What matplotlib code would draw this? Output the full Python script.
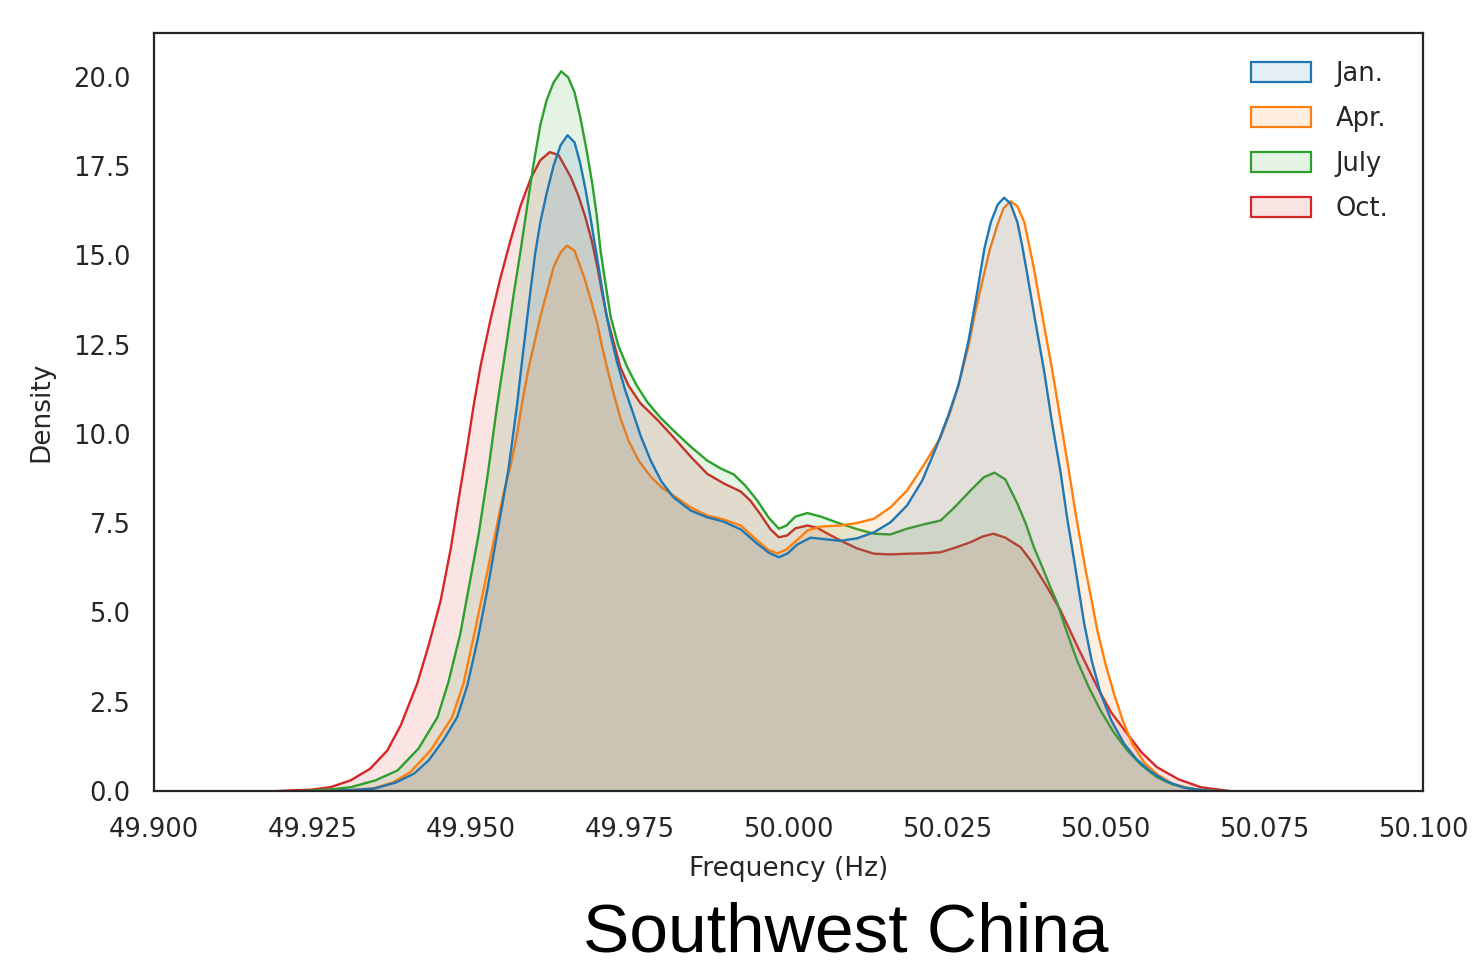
import matplotlib
matplotlib.use("Agg")
import matplotlib.pyplot as plt
from matplotlib.patches import Patch
from matplotlib.colors import to_rgba
import seaborn as sns

sns.set_style("white")
plt.rcParams['font.family'] = ['DejaVu Sans']

# ---- data (frequency in Hz, KDE density) ----
labels = ["Jan.", "Apr.", "July", "Oct."]
colors = ["#1f77b4", "#ff7f0e", "#2ca02c", "#d62728"]

jan_f = [49.9262, 49.9309, 49.9346, 49.9380, 49.9409, 49.9432, 49.9455, 49.9477, 49.9493,
         49.9509, 49.9525, 49.9540, 49.9550, 49.9558, 49.9565, 49.9572, 49.9577, 49.9585,
         49.9593, 49.9600, 49.9608, 49.9618, 49.9629, 49.9640, 49.9651, 49.9662, 49.9671,
         49.9679, 49.9687, 49.9693, 49.9700, 49.9711, 49.9719, 49.9729, 49.9742, 49.9755,
         49.9766, 49.9782, 49.9799, 49.9818, 49.9845, 49.9871, 49.9897, 49.9924, 49.9950,
         49.9968, 49.9984, 49.9998, 50.0013, 50.0034, 50.0060, 50.0081, 50.0107, 50.0134,
         50.0160, 50.0186, 50.0210, 50.0232, 50.0251, 50.0267, 50.0283, 50.0297, 50.0308,
         50.0318, 50.0329, 50.0339, 50.0349, 50.0360, 50.0368, 50.0375, 50.0388, 50.0402,
         50.0414, 50.0428, 50.0439, 50.0450, 50.0465, 50.0477, 50.0491, 50.0508, 50.0528,
         50.0548, 50.0570, 50.0595, 50.0622, 50.0656, 50.0696]
jan_d = [0.01, 0.04, 0.08, 0.25, 0.50, 0.87, 1.43, 2.08, 2.97,
         4.23, 5.69, 7.22, 8.21, 9.05, 9.97, 10.92, 11.71, 12.91,
         14.09, 15.07, 15.94, 16.75, 17.53, 18.10, 18.38, 18.18, 17.59,
         16.89, 16.09, 15.43, 14.69, 13.47, 12.77, 12.02, 11.23, 10.56,
         9.97, 9.27, 8.68, 8.24, 7.87, 7.68, 7.56, 7.34, 6.94,
         6.69, 6.56, 6.67, 6.92, 7.11, 7.06, 7.02, 7.09, 7.26,
         7.54, 8.01, 8.71, 9.64, 10.53, 11.37, 12.63, 14.03, 15.21,
         15.94, 16.44, 16.63, 16.47, 15.94, 15.24, 14.54, 13.19, 11.79,
         10.39, 8.94, 7.59, 6.41, 4.73, 3.67, 2.75, 1.99, 1.34,
         0.90, 0.56, 0.28, 0.11, 0.03, 0.0]

apr_f = [49.9262, 49.9309, 49.9345, 49.9375, 49.9403, 49.9435, 49.9469, 49.9487, 49.9503,
         49.9520, 49.9537, 49.9550, 49.9561, 49.9571, 49.9580, 49.9590, 49.9608, 49.9629,
         49.9640, 49.9650, 49.9662, 49.9677, 49.9687, 49.9698, 49.9705, 49.9713, 49.9723,
         49.9734, 49.9747, 49.9763, 49.9782, 49.9799, 49.9818, 49.9845, 49.9871, 49.9897,
         49.9924, 49.9950, 49.9968, 49.9982, 49.9996, 50.0012, 50.0029, 50.0050, 50.0081,
         50.0107, 50.0134, 50.0160, 50.0186, 50.0212, 50.0239, 50.0255, 50.0270, 50.0283,
         50.0294, 50.0305, 50.0316, 50.0328, 50.0338, 50.0349, 50.0360, 50.0371, 50.0377,
         50.0386, 50.0400, 50.0415, 50.0428, 50.0441, 50.0453, 50.0467, 50.0477, 50.0486,
         50.0499, 50.0512, 50.0526, 50.0541, 50.0560, 50.0580, 50.0604, 50.0633, 50.0672,
         50.0712]
apr_d = [0.01, 0.04, 0.09, 0.25, 0.54, 1.15, 2.08, 3.03, 4.34,
         5.77, 7.22, 8.35, 9.10, 9.97, 10.95, 11.89, 13.29, 14.69,
         15.10, 15.29, 15.15, 14.41, 13.81, 13.10, 12.49, 11.89, 11.18,
         10.48, 9.83, 9.27, 8.82, 8.52, 8.29, 7.96, 7.73, 7.62,
         7.45, 7.03, 6.76, 6.67, 6.78, 7.03, 7.31, 7.42, 7.45,
         7.52, 7.64, 7.96, 8.43, 9.13, 9.92, 10.67, 11.57, 12.49,
         13.47, 14.31, 15.15, 15.85, 16.33, 16.53, 16.39, 15.94, 15.43,
         14.65, 13.25, 11.79, 10.39, 8.99, 7.65, 6.25, 5.35, 4.51,
         3.56, 2.75, 1.99, 1.34, 0.81, 0.48, 0.22, 0.08, 0.01,
         0.0]

jul_f = [49.9230, 49.9277, 49.9309, 49.9348, 49.9383, 49.9416, 49.9446, 49.9463, 49.9482,
         49.9496, 49.9511, 49.9525, 49.9540, 49.9556, 49.9567, 49.9577, 49.9588, 49.9597,
         49.9608, 49.9618, 49.9629, 49.9641, 49.9652, 49.9662, 49.9671, 49.9681, 49.9690,
         49.9697, 49.9703, 49.9711, 49.9719, 49.9731, 49.9745, 49.9760, 49.9777, 49.9797,
         49.9818, 49.9845, 49.9871, 49.9892, 49.9913, 49.9931, 49.9950, 49.9968, 49.9984,
         49.9996, 50.0010, 50.0029, 50.0050, 50.0081, 50.0107, 50.0134, 50.0160, 50.0186,
         50.0212, 50.0239, 50.0262, 50.0286, 50.0307, 50.0324, 50.0341, 50.0360, 50.0373,
         50.0386, 50.0400, 50.0412, 50.0423, 50.0437, 50.0454, 50.0472, 50.0491, 50.0511,
         50.0533, 50.0556, 50.0580, 50.0604, 50.0633, 50.0672, 50.0710]
jul_d = [0.01, 0.06, 0.12, 0.31, 0.59, 1.20, 2.08, 3.05, 4.42,
         5.77, 7.22, 8.85, 10.81, 12.69, 14.03, 15.15, 16.47, 17.53,
         18.66, 19.36, 19.86, 20.17, 20.00, 19.58, 18.89, 17.96, 17.02,
         16.13, 15.15, 14.20, 13.29, 12.49, 11.89, 11.37, 10.90, 10.48,
         10.11, 9.66, 9.27, 9.05, 8.88, 8.57, 8.15, 7.67, 7.36,
         7.45, 7.70, 7.80, 7.70, 7.50, 7.35, 7.22, 7.20, 7.36,
         7.48, 7.59, 7.98, 8.43, 8.80, 8.93, 8.74, 8.06, 7.51,
         6.84, 6.25, 5.72, 5.27, 4.51, 3.67, 2.94, 2.27, 1.68,
         1.15, 0.73, 0.40, 0.20, 0.08, 0.01, 0.0]

oct_f = [49.9180, 49.9214, 49.9246, 49.9277, 49.9309, 49.9340, 49.9367, 49.9388, 49.9414,
         49.9432, 49.9451, 49.9467, 49.9479, 49.9492, 49.9503, 49.9514, 49.9530, 49.9545,
         49.9561, 49.9577, 49.9593, 49.9608, 49.9623, 49.9637, 49.9656, 49.9668, 49.9679,
         49.9689, 49.9698, 49.9705, 49.9713, 49.9722, 49.9734, 49.9747, 49.9766, 49.9792,
         49.9818, 49.9845, 49.9871, 49.9897, 49.9924, 49.9939, 49.9955, 49.9971, 49.9984,
         49.9997, 50.0010, 50.0029, 50.0044, 50.0060, 50.0081, 50.0107, 50.0134, 50.0160,
         50.0186, 50.0212, 50.0239, 50.0262, 50.0286, 50.0305, 50.0322, 50.0341, 50.0365,
         50.0381, 50.0407, 50.0428, 50.0456, 50.0486, 50.0508, 50.0533, 50.0556, 50.0580,
         50.0614, 50.0649, 50.0696, 50.0730]
oct_d = [0.0, 0.03, 0.05, 0.12, 0.31, 0.64, 1.15, 1.85, 3.02,
         4.09, 5.35, 6.81, 8.15, 9.55, 10.81, 11.93, 13.25, 14.37,
         15.43, 16.41, 17.17, 17.68, 17.91, 17.82, 17.21, 16.69, 16.09,
         15.43, 14.69, 14.01, 13.29, 12.69, 11.89, 11.37, 10.87, 10.42,
         9.92, 9.38, 8.90, 8.63, 8.40, 8.15, 7.76, 7.34, 7.12,
         7.17, 7.37, 7.45, 7.39, 7.23, 7.03, 6.81, 6.66, 6.64,
         6.66, 6.67, 6.70, 6.83, 6.98, 7.14, 7.22, 7.11, 6.84,
         6.47, 5.72, 5.07, 4.01, 2.92, 2.21, 1.62, 1.09, 0.68,
         0.34, 0.12, 0.01, 0.0]

series_f = [jan_f, apr_f, jul_f, oct_f]
series_d = [jan_d, apr_d, jul_d, oct_d]

x_ticks = [49.900, 49.925, 49.950, 49.975, 50.000, 50.025, 50.050, 50.075, 50.100]
y_ticks = [0.0, 2.5, 5.0, 7.5, 10.0, 12.5, 15.0, 17.5, 20.0]

# ---- figure ----
fig = plt.figure(figsize=(14.79, 9.68), dpi=100)
ax = fig.add_axes([154 / 1479, 1 - 791 / 968, (1423 - 154) / 1479, (791 - 33) / 968])

fill_alpha = 0.12
# seaborn draws hue levels in reverse order
for f, d, c in reversed(list(zip(series_f, series_d, colors))):
    ax.fill_between(f, 0, d, facecolor=to_rgba(c, fill_alpha), edgecolor=c,
                    linewidth=1.7, joinstyle="round")

ax.set_xlim(49.9, 50.1)
ax.set_ylim(0, 21.23)
ax.set_xticks(x_ticks)
ax.set_xticklabels([f"{v:.3f}" for v in x_ticks])
ax.set_yticks(y_ticks)
ax.set_yticklabels([f"{v:.1f}" for v in y_ticks])

txt_color = "#262626"
ax.tick_params(axis="both", length=0, labelsize=18.5, labelcolor=txt_color)
ax.tick_params(axis="x", pad=19)
ax.tick_params(axis="y", pad=17)
for s in ax.spines.values():
    s.set_color(txt_color)
    s.set_linewidth(1.6)

ax.set_xlabel("Frequency (Hz)", fontsize=19, color=txt_color, labelpad=9)
ax.set_ylabel("Density", fontsize=19, color=txt_color, labelpad=13)

handles = [Patch(facecolor=to_rgba(c, fill_alpha), edgecolor=c, linewidth=1.6) for c in colors]
ax.legend(handles, labels, loc="upper right", bbox_to_anchor=(0.991, 0.994), frameon=False,
          fontsize=18.5, handlelength=2.35, handleheight=0.8, labelspacing=0.74,
          handletextpad=0.95, labelcolor=txt_color)

fig.text(846 / 1479, 1 - 933 / 968, "Southwest China", fontsize=50,
         family="Liberation Sans", ha="center", va="center", color="black")

fig.savefig("out.png", dpi=100)
